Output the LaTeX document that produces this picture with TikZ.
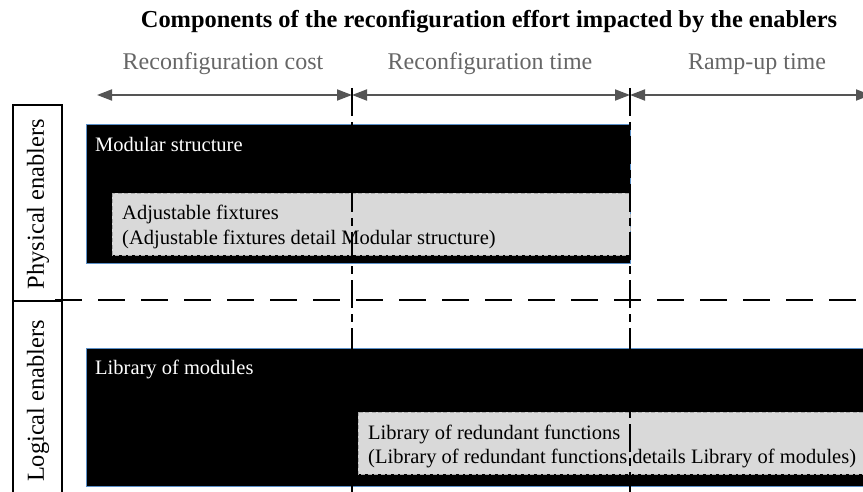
\documentclass[tikz,border=0pt]{standalone}
\usepackage{fontspec}
\setmainfont{Liberation Serif}
\usepackage{xcolor}
\usetikzlibrary{arrows.meta}

\definecolor{hdrgray}{RGB}{102,102,102}
\definecolor{arrgray}{RGB}{85,85,85}
\definecolor{edgeblue}{RGB}{91,143,199}
\definecolor{boxgray}{RGB}{217,217,217}

\tikzset{
  enablerbox/.style={fill=black, draw=edgeblue, line width=1pt},
  detailbox/.style={fill=boxgray, draw=gray!65, dash pattern=on 4pt off 2.5pt, line width=0.9pt},
  boxtext/.style={white, font=\fontsize{20.5}{24}\selectfont, anchor=base west, inner sep=0pt},
  detailtext/.style={black, font=\fontsize{20.5}{24}\selectfont, anchor=base west, inner sep=0pt},
  colhead/.style={hdrgray, font=\fontsize{24}{28}\selectfont, anchor=base, inner sep=0pt},
  rowhead/.style={font=\fontsize{24.4}{28}\selectfont, rotate=90, inner sep=0pt},
  colarrow/.style={{Triangle[length=15pt,width=11pt]}-{Triangle[length=15pt,width=11pt]}, arrgray, line width=1.8pt},
  colsep/.style={black, line width=1.6pt, dash pattern=on 28pt off 6pt on 8pt off 6pt},
}

\begin{document}
\begin{tikzpicture}[x=1pt,y=-1pt]
    \useasboundingbox (0,0) rectangle (863,492);
    \begin{scope}
    \clip (0,0) rectangle (863,492);

    % Title and the three effort components
    \node[font=\bfseries\fontsize{24.4}{28}\selectfont, anchor=base, inner sep=0pt] (title) at (489,28) {Components of the reconfiguration effort impacted by the enablers};
    \node[colhead] (cost) at (223,70) {Reconfiguration cost};
    \node[colhead] (time) at (490,70) {Reconfiguration time};
    \node[colhead] (ramp) at (757,70) {Ramp-up time};

    \coordinate (c0) at (97,95);
    \coordinate (c1) at (352,95);
    \coordinate (c2) at (630,95);
    \coordinate (c3) at (871,95);
    \draw[colarrow] (c1) -- (c0);
    \draw[colarrow] (c1) -- (c2);
    \draw[colarrow] (c2) -- (c3);

    % Row labels
    \draw[line width=1.2pt] (13,495) -- (13,105) -- (62,105) -- (62,495);
    \draw[line width=1.2pt] (13,301) -- (62,301);
    \node[rowhead] (phys) at (38,204) {Physical enablers};
    \node[rowhead] (logi) at (38,401) {Logical enablers};

    % Physical enablers
    \fill[enablerbox] (86,125) rectangle (630,263);
    \node[boxtext] (modst) at (95,152) {Modular structure};
    \fill[detailbox] (112,193) rectangle (630,255);
    \node[detailtext] (adj1) at (122,219) {Adjustable fixtures};
    \node[detailtext] (adj2) at (122,244) {(Adjustable fixtures detail Modular structure)};

    % Logical enablers
    \fill[enablerbox] (86,348) rectangle (880,486);
    \node[boxtext] (libmod) at (95,374) {Library of modules};
    \fill[detailbox] (358,412) rectangle (880,474);
    \node[detailtext] (red1) at (368,439) {Library of redundant functions};
    \node[detailtext] (red2) at (368,463) {(Library of redundant functions details Library of modules)};

    % Separators
    \draw[black, line width=1.6pt, dash pattern=on 27pt off 16pt, dash phase=-5pt] (50,300) -- (870,300);
    \draw[colsep] (352,88) -- (352,495);
    \draw[colsep] (630,88) -- (630,495);
    \end{scope}
\end{tikzpicture}
\end{document}
